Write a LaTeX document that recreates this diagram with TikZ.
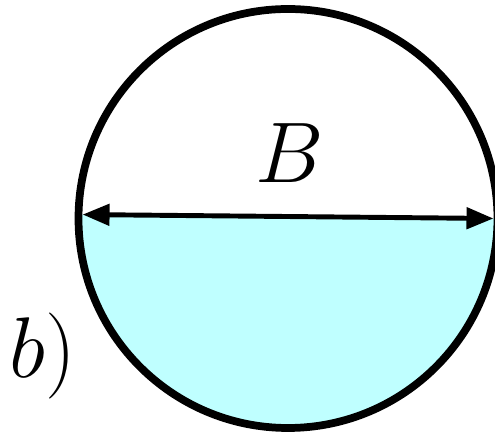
\RequirePackage{fix-cm}
\documentclass[tikz,border=0pt]{standalone}
\usepackage{amsmath,amssymb}
\usetikzlibrary{arrows.meta}
\definecolor{water}{RGB}{191,255,255}

\begin{document}
\begin{tikzpicture}[font=\fontsize{49}{58}\selectfont,
 rim/.style={line width=4.4pt},
 span/.style={{Triangle[length=5.4mm,width=4.2mm]}-{Triangle[length=5.4mm,width=4.2mm]},line width=2.8pt}]
\path[use as bounding box] (0,0) rectangle (9.9,8.7);
\coordinate (O) at (5.76,4.33);
% The liquid fills the part of the pipe below the chord.
\fill[water] (O) ++(0:4.19) arc[start angle=0,end angle=-181.1,radius=4.19] -- cycle;
\draw[rim] (O) circle (4.19);
% Both arrow tips touch the inner edge of the rim.
\path (O) ++(178.9:4.11) coordinate (W);
\path (O) ++(0:4.11) coordinate (E);
\draw[span] (W) -- (E);
\node[anchor=base] (width) at (5.8,5.04) {$B$};
\node[anchor=base] (label) at (0.86,1.14) {$b)$};
\end{tikzpicture}
\end{document}
